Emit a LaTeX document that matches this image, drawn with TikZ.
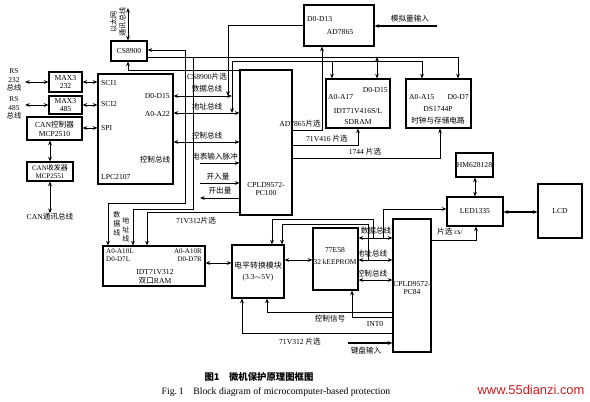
\documentclass[tikz,border=0pt]{standalone}
\usepackage{fontspec}
\setmainfont{Liberation Serif}
\newfontfamily\cjk{Noto Sans CJK SC}
\newfontfamily\wmfont{Liberation Sans}
\usetikzlibrary{fit,arrows.meta}
\newcommand{\z}[1]{{\cjk #1}}
\begin{document}
\begin{tikzpicture}[x=0.03cm,y=-0.03cm,
 box/.style={draw, line width=0.9pt, inner sep=0pt},
 txt/.style={inner sep=0pt, font=\fontsize{6.5}{7.5}\selectfont},
 sml/.style={inner sep=0pt, font=\fontsize{6}{7}\selectfont},
 lbl/.style={inner sep=0pt, font=\fontsize{6.5}{7.5}\selectfont},
 ln/.style={line width=0.7pt},
 ar/.style={ln, -{Stealth[length=4pt,width=3.2pt]}},
 rar/.style={ln, {Stealth[length=4pt,width=3.2pt]}-},
 dar/.style={ln, {Stealth[length=4pt,width=3.2pt]}-{Stealth[length=4pt,width=3.2pt]}},
 ]
\useasboundingbox (0,0) rectangle (590,402);
% ---------- boxes ----------
\node[box, fit={(111,41) (147,61)}] (cs) {};
\node[box, fit={(98,74) (173,184)}] (mcu) {};
\node[box, fit={(49,72) (82,92)}] (max1) {};
\node[box, fit={(49,96) (82,114)}] (max2) {};
\node[box, fit={(27,117) (82,140)}] (canc) {};
\node[box, fit={(27,162) (73,181)}] (cant) {};
\node[box, fit={(304,5) (374,46)}] (ad) {};
\node[box, fit={(240,70) (292,215)}] (cpld) {};
\node[box, fit={(326,79) (390,128)}] (sram) {};
\node[box, fit={(406,79) (471,128)}] (ds) {};
\node[box, fit={(103,246) (205,286)}] (dpr) {};
\node[box, fit={(232,245) (284,298)}] (lvl) {};
\node[box, fit={(313,228) (358,290)}] (mcub) {};
\node[box, fit={(393,219) (431,352)}] (pc84) {};
\node[box, fit={(447,197) (503,226)}] (led) {};
\node[box, fit={(456,153) (493,177)}] (hm) {};
\node[box, fit={(538,184) (582,238)}] (lcd) {};
% ---------- box texts ----------
\node[txt] (tcs) at (cs) {CS8900};
\node[txt, anchor=west] (tsci1) at (101,83) {SCI1};
\node[txt, anchor=west] (tsci2) at (101,104) {SCI2};
\node[txt, anchor=west] (tspi) at (101,128) {SPI};
\node[txt, anchor=east] (tmd) at (170,96) {D0-D15};
\node[txt, anchor=east] (tma) at (170,114) {A0-A22};
\node[txt] (tmc) at (155,160) {\z{控制总线}};
\node[txt, anchor=west] (tmn) at (101,177) {LPC2107};
\node[txt, align=center] (tmax1) at (max1) {MAX3\\232};
\node[txt, align=center] (tmax2) at (max2) {MAX3\\485};
\node[txt, align=center] (tcanc) at (canc) {CAN\z{控制器}\\MCP2510};
\node[sml, align=center] (tcant) at (cant) {CAN\z{收发器}\\MCP2551};
\node[txt, anchor=west] (tadd) at (307,19) {D0-D13};
\node[txt] (tadn) at (340,32) {AD7865};
\node[txt, anchor=west] (tsa) at (328,97) {A0-A17};
\node[txt, anchor=east] (tsd) at (388,90) {D0-D15};
\node[txt] (tsn) at (358,111) {IDT71V416S/L};
\node[txt] (tsn2) at (358,122) {SDRAM};
\node[txt, anchor=west] (tda) at (409,97) {A0-A15};
\node[txt, anchor=east] (tdd) at (469,97) {D0-D7};
\node[txt] (tdn) at (438,109) {DS1744P};
\node[txt] (tdn2) at (438,121) {\z{时钟与存储电路}};
\node[txt, align=center] (tcp) at (266,189) {CPLD9572-\\PC100};
\node[sml, anchor=west] (tpa1) at (106,251) {A0-A10L};
\node[sml, anchor=west] (tpd1) at (106,259) {D0-D7L};
\node[sml, anchor=east] (tpa2) at (202,251) {A0-A10R};
\node[sml, anchor=east] (tpd2) at (202,259) {D0-D7R};
\node[txt] (tpn) at (155,272) {IDT71V312};
\node[txt] (tpn2) at (155,281) {\z{双口}RAM};
\node[inner sep=0pt, font=\fontsize{6.8}{8}\selectfont] (tlv) at (258,265) {\z{电平转换模块}};
\node[txt] (tlv2) at (258,278) {(3.3$\sim$5V)};
\node[txt] (tmb) at (335,250) {77E58};
\node[inner sep=0pt, font=\fontsize{6.3}{7.5}\selectfont] (tmb2) at (335,262) {32 kEEPROM};
\node[txt, align=center] (tpc) at (412,288) {CPLD9572-\\PC84};
\node[txt] (tled) at (led) {LED1335};
\node[txt] (thm) at (hm) {HM628128};
\node[txt] (tlcd) at (lcd) {LCD};
% ---------- left side ----------
\node[lbl, align=center, font=\fontsize{6.3}{7.2}\selectfont] (rs1) at (14,80) {RS\\232\\\z{总线}};
\node[lbl, align=center, font=\fontsize{6.3}{7.2}\selectfont] (rs2) at (14,108) {RS\\485\\\z{总线}};
\draw[dar] (25,82) -- (max1.west |- 0,82);
\draw[dar] (max1.east |- 0,82) -- (mcu.west |- 0,82);
\draw[dar] (25,105) -- (max2.west |- 0,105);
\draw[dar] (max2.east |- 0,105) -- (mcu.west |- 0,105);
\draw[dar] (canc.east |- 0,128) -- (mcu.west |- 0,128);
\draw[dar] (50,0 |- canc.south) -- (50,0 |- cant.north);
\node[lbl] (canbus) at (50,217) {CAN\z{通讯总线}};
\draw[dar] (50,0 |- cant.south) -- (canbus.north);
% ethernet
\node[lbl, rotate=90, align=center, font=\fontsize{6}{7.5}\selectfont] (eth) at (118,22) {\z{以太网}\\\z{通讯总线}};
\draw[dar] (128,0 |- cs.north) -- (128,8);
% ---------- top buses ----------
\draw[ar] (cpld.west |- 0,70) -- (128,70) -- (128,0 |- cs.south);
\node[lbl] (lcs) at (207,77) {CS8900\z{片选}};
\draw[ar] (185,50) -- (cs.east |- 0,50);
\draw[ar] (185,50) -- (185,203) -- (108,203) -- (108,0 |- dpr.north);
\draw[ln] (cs.east |- 0,57) -- (458,57);
\draw[ar] (458,57) -- (458,0 |- ds.north);
\draw[dar] (377,57) -- (377,0 |- sram.north);
\draw[ar] (193,57) -- (193,209) -- (133,209) -- (133,0 |- dpr.north);
\draw[ln] (232,61) -- (422,61);
\draw[ar] (422,61) -- (422,0 |- ds.north);
\draw[ar] (332,61) -- (332,0 |- sram.north);
\draw[ar] (232,61) -- (232,113);
\draw[ar] (ad.west |- 0,25) -- (228,25) -- (228,96);
\node[lbl] (lain) at (410,19) {\z{模拟量输入}};
\draw[ar, line width=1pt] (437,26) -- (ad.east |- 0,26);
% ---------- MCU <-> CPLD ----------
\draw[dar] (mcu.east |- 0,96) -- (232,96);
\node[lbl] (ldb) at (207,89) {\z{数据总线}};
\draw[dar] (mcu.east |- 0,113) -- (cpld.west |- 0,113);
\node[lbl] (lab) at (207,107) {\z{地址总线}};
\draw[dar] (mcu.east |- 0,142) -- (cpld.west |- 0,142);
\node[lbl] (lcb) at (207,136) {\z{控制总线}};
\draw[ar] (200,163) -- (cpld.west |- 0,163);
\node[lbl] (lmp) at (215,157) {\z{电表输入脉冲}};
\draw[ar] (200,183) -- (cpld.west |- 0,183);
\node[lbl] (lki) at (218,177) {\z{开入量}};
\draw[ar] (cpld.west |- 0,198) -- (200,198);
\node[lbl] (lko) at (220,191) {\z{开出量}};
\draw[ar] (cpld.west |- 0,212) -- (147,212) -- (147,0 |- dpr.north);
\node[lbl] (l312a) at (196,221) {71V312\z{片选}};
\node[lbl, align=center, font=\fontsize{6}{7.5}\selectfont] (lsx) at (117,224) {\z{数}\\\z{据}\\\z{线}};
\node[lbl, align=center, font=\fontsize{6}{7.5}\selectfont] (ldx) at (126,230) {\z{地}\\\z{址}\\\z{线}};
% ---------- CPLD right ----------
\draw[ar] (cpld.east |- 0,130) -- (322,130) -- (322,0 |- ad.south);
\node[lbl] (lad) at (300,124) {AD7865\z{片选}};
\draw[ar] (cpld.east |- 0,145) -- (358,145) -- (358,0 |- sram.south);
\node[lbl] (l416) at (327,139) {71V416 \z{片选}};
\draw[ar] (cpld.east |- 0,158) -- (440,158) -- (440,0 |- ds.south);
\node[lbl] (l1744) at (365,152) {1744 \z{片选}};
% ---------- lower part ----------
\draw[dar] (dpr.east |- 0,263) -- (lvl.west |- 0,263);
\draw[dar] (lvl.east |- 0,260) -- (mcub.west |- 0,260);
\draw[rar] (272,0 |- lvl.north) -- (272,219) -- (373,219) -- (373,238);
\draw[rar] (282,0 |- lvl.north) -- (282,224) -- (368,224) -- (368,260);
\draw[ar] (383,238) -- (383,209) -- (led.west |- 0,209);
\draw[dar] (mcub.east |- 0,238) -- (pc84.west |- 0,238);
\node[lbl] (ldb2) at (376,231) {\z{数据总线}};
\draw[dar] (mcub.east |- 0,260) -- (pc84.west |- 0,260);
\node[lbl] (lab2) at (372,254) {\z{地址总线}};
\draw[dar] (mcub.east |- 0,280) -- (pc84.west |- 0,280);
\node[lbl] (lcb2) at (372,274) {\z{控制总线}};
\draw[ar] (pc84.west |- 0,312) -- (267,312) -- (267,0 |- lvl.south);
\node[lbl] (lctl) at (330,319) {\z{控制信号}};
\draw[ar] (pc84.west |- 0,317) -- (352,317) -- (352,0 |- mcub.south);
\node[lbl] (lint) at (375,324) {INT0};
\draw[ar] (pc84.west |- 0,333) -- (242,333) -- (242,0 |- lvl.south);
\node[lbl] (l312b) at (300,342) {71V312 \z{片选}};
\draw[ar, line width=1pt] (348,343) -- (pc84.west |- 0,343);
\node[lbl] (lkey) at (366,351) {\z{键盘输入}};
\draw[dar] (475,0 |- hm.south) -- (475,0 |- led.north);
\draw[dar, line width=1pt] (led.east |- 0,212) -- (lcd.west |- 0,212);
\draw[ar] (pc84.east |- 0,240) -- (476,240) -- (476,0 |- led.south);
\node[lbl] (lcsl) at (450,232) {\z{片选} cs/};
% ---------- captions ----------
\node[inner sep=0pt, font=\cjk\bfseries\fontsize{8}{9}\selectfont] (cap1) at (259,377) {图1\quad 微机保护原理图框图};
\node[inner sep=0pt, font=\fontsize{8.3}{9}\selectfont] (cap2) at (276,392) {Fig.\,1\quad Block diagram of microcomputer-based protection};
\node[inner sep=0pt, font=\wmfont\fontsize{11}{12}\selectfont, text={rgb,255:red,200;green,30;blue,30}] (wm) at (531,390) {www.55dianzi.com};
\end{tikzpicture}
\end{document}
